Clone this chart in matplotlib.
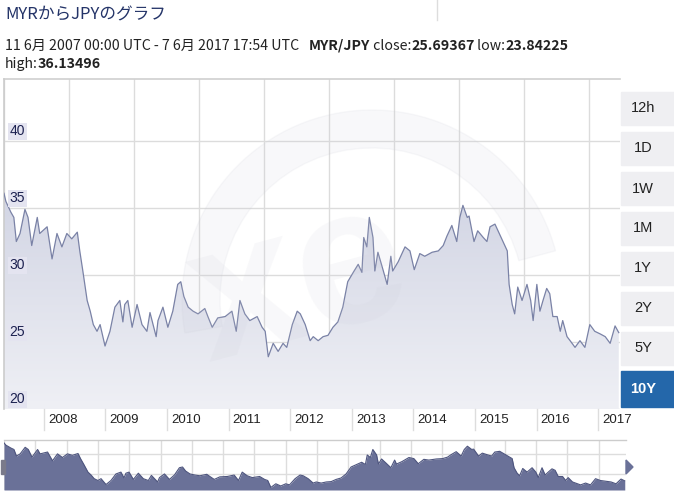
import numpy as np
import matplotlib
matplotlib.use("Agg")
import matplotlib.pyplot as plt
from matplotlib.colors import LinearSegmentedColormap
from matplotlib.patches import Polygon, Rectangle, Wedge
from matplotlib.transforms import IdentityTransform, blended_transform_factory

plt.rcParams['font.family'] = ['Liberation Sans', 'DejaVu Sans']

# ---------------------------- data ----------------------------
years = [2007.44, 2007.47, 2007.55, 2007.60, 2007.64, 2007.70, 2007.78, 2007.83, 2007.89, 2007.98,
         2008.02, 2008.14, 2008.22, 2008.30, 2008.38, 2008.46, 2008.54, 2008.63, 2008.67, 2008.72,
         2008.79, 2008.84, 2008.89, 2008.95, 2009.00, 2009.08, 2009.16, 2009.24, 2009.32, 2009.37,
         2009.40, 2009.45, 2009.52, 2009.60, 2009.68, 2009.76, 2009.81, 2009.91, 2009.94, 2010.02,
         2010.10, 2010.18, 2010.26, 2010.31, 2010.36, 2010.43, 2010.51, 2010.59, 2010.70, 2010.75,
         2010.82, 2010.91, 2011.03, 2011.14, 2011.21, 2011.27, 2011.35, 2011.43, 2011.55, 2011.63,
         2011.68, 2011.73, 2011.81, 2011.89, 2011.97, 2012.03, 2012.12, 2012.20, 2012.25, 2012.33,
         2012.41, 2012.46, 2012.54, 2012.62, 2012.70, 2012.78, 2012.86, 2012.94, 2013.02, 2013.11,
         2013.19, 2013.25, 2013.28, 2013.33, 2013.37, 2013.43, 2013.46, 2013.51, 2013.58, 2013.66,
         2013.72, 2013.75, 2013.84, 2013.95, 2014.03, 2014.10, 2014.19, 2014.27, 2014.39, 2014.49,
         2014.57, 2014.63, 2014.71, 2014.79, 2014.84, 2014.89, 2014.96, 2014.99, 2015.07, 2015.13,
         2015.22, 2015.28, 2015.33, 2015.41, 2015.48, 2015.54, 2015.61, 2015.64, 2015.69, 2015.73,
         2015.78, 2015.85, 2015.93, 2015.99, 2016.03, 2016.09, 2016.14, 2016.19, 2016.25, 2016.30,
         2016.35, 2016.42, 2016.47, 2016.51, 2016.58, 2016.63, 2016.71, 2016.79, 2016.87, 2016.95,
         2017.03, 2017.12, 2017.20, 2017.28, 2017.36, 2017.42]
rate = [36.1, 35.5, 34.7, 34.3, 32.5, 33.1, 34.9, 34.3, 32.2, 34.3,
        33.1, 33.6, 31.2, 33.1, 32.1, 33.1, 32.7, 33.2, 31.8, 30.3,
        28.1, 27.3, 26.3, 25.8, 26.3, 24.7, 25.8, 27.6, 28.1, 26.5,
        27.8, 28.1, 26.1, 27.8, 26.3, 25.8, 27.2, 25.4, 26.6, 27.6,
        26.1, 27.3, 29.3, 29.5, 28.4, 27.6, 27.3, 27.1, 27.5, 26.9,
        26.1, 26.8, 26.9, 27.3, 25.8, 28.1, 27.1, 26.6, 26.9, 26.1,
        25.8, 23.9, 24.9, 24.3, 24.9, 24.6, 26.3, 27.3, 27.1, 26.3,
        25.1, 25.4, 25.1, 25.4, 25.5, 26.1, 26.5, 27.6, 29.5, 30.2,
        30.8, 30.2, 32.8, 32.1, 34.3, 32.8, 30.3, 31.7, 30.6, 29.3,
        31.4, 30.3, 31.0, 32.1, 31.8, 30.4, 31.6, 31.4, 31.7, 31.8,
        32.2, 32.9, 33.7, 32.5, 34.3, 35.2, 34.3, 34.4, 32.5, 33.3,
        32.8, 32.5, 33.6, 33.8, 33.1, 32.5, 31.8, 29.3, 27.8, 27.1,
        29.1, 28.1, 29.3, 28.1, 26.6, 29.3, 27.3, 28.1, 29.0, 28.6,
        26.9, 26.9, 25.8, 26.6, 25.4, 25.1, 24.6, 25.1, 24.6, 26.3,
        25.8, 25.6, 25.4, 24.9, 26.2, 25.7]

yticks = [20, 25, 30, 35, 40]
year_labels = ['2008', '2009', '2010', '2011', '2012', '2013', '2014', '2015', '2016', '2017']
buttons = ['12h', '1D', '1W', '1M', '1Y', '2Y', '5Y', '10Y']

W, H = 674, 496
def fx(px):
    return px / W
def fy(py):
    return 1 - py / H

fig = plt.figure(figsize=(W / 100, H / 100), dpi=100)
fig.patch.set_facecolor('white')

# ------------------------------- main chart --------------------------------
ax = fig.add_axes([fx(4), fy(409), fx(616), 330 / H])
x0, x1 = 2007.44, 2017.44
ymax = 44.63
for s in ax.spines.values():
    s.set_visible(False)
ax.set_xticks([])
ax.set_yticks([])

# grid
for v in yticks:
    ax.axhline(v, color='#dcdcdc', lw=1, zorder=0)
for gx in np.arange(0, 10, 1) * 65 / 61.6 + x0:
    ax.axvline(gx, color='#dcdcdc', lw=1, zorder=0)
ax.axhline(ymax, color='#d0d0d0', lw=1.2, zorder=0, clip_on=False)

# gradient fill under the line
cmap = LinearSegmentedColormap.from_list('fill', ['#eff0f5', '#d2d5e4'])
grad = np.linspace(0, 1, 256).reshape(-1, 1)
im = ax.imshow(grad, extent=[x0, x1, 20, max(rate)], origin='lower', aspect='auto',
               cmap=cmap, zorder=1)
verts = [(years[0], 19)] + list(zip(years, rate)) + [(years[-1], 19)]
clip = Polygon(verts, closed=True, facecolor='none', edgecolor='none')
ax.add_patch(clip)
im.set_clip_path(clip)
ax.set_xlim(x0, x1)
ax.set_ylim(20, ymax)
ax.plot(years, rate, color='#7a82a6', lw=0.9, zorder=3)

# watermark
wm = '#c9cad6'
fig.add_artist(Wedge((372, H - 300), 190, 15, 190, width=38, color=wm, alpha=0.12,
                     transform=IdentityTransform(), zorder=5))
fig.text(fx(300), fy(285), 'xe', fontsize=140, fontweight='bold', color=wm, alpha=0.12,
         ha='center', va='center', rotation=15, zorder=5)

# y labels
for v in yticks:
    ax.annotate(str(v), xy=(0, v), xycoords=('axes fraction', 'data'), xytext=(4, 2),
                textcoords='offset points', fontsize=10, color='#1c2150', ha='left', va='bottom',
                bbox=dict(facecolor='#e4e4f0', edgecolor='none', pad=1.2), zorder=6)

# year labels and separators
tr = blended_transform_factory(ax.transData, ax.transAxes)
for i, lab in enumerate(year_labels):
    t = 2008 + i + 0.085
    ax.plot([t, t], [0, -0.065], color='#dddddd', lw=1, transform=tr, clip_on=False)
    ax.annotate(lab, xy=(t, 0), xycoords=tr, xytext=(3, -8), textcoords='offset points',
                fontsize=9.5, color='#222222', ha='left', va='center')
ax.plot([x0, x0], [0, 1], color='#cccccc', lw=1.2, transform=tr, clip_on=False)

# ------------------------------- navigator --------------------------------
nav = fig.add_axes([fx(4), fy(490), fx(622), 50 / H])
nav.set_xlim(x0, x1)
nav.set_ylim(23.2, 36.9)
for s in nav.spines.values():
    s.set_visible(False)
nav.set_xticks([])
nav.set_yticks([])
for gx in np.arange(0, 20) * 31 / 61.6 + x0:
    nav.axvline(gx, color='#dddddd', lw=1, zorder=0)
for gy in [27.5, 33.0]:
    nav.axhline(gy, color='#dddddd', lw=1, zorder=0)
nav.axhline(36.9, color='#cccccc', lw=1, zorder=0, clip_on=False)
nav.fill_between(years, rate, 23.2, color='#6a7198', lw=0, zorder=2)
nav.plot(years, rate, color='#4e557e', lw=0.8, zorder=3)
fig.add_artist(Rectangle((fx(1), fy(474)), fx(4), 14 / H, color='#7a7a8a', zorder=6))
fig.add_artist(Polygon([(fx(626), fy(460)), (fx(633), fy(467)), (fx(626), fy(474))],
                       closed=True, color='#6a7198', zorder=6))

# ------------------------------- range buttons --------------------------------
btn_top = [92, 132, 172, 212, 252, 292, 332, 371]
for lab, top in zip(buttons, btn_top):
    sel = lab == '10Y'
    h = 36 if sel else 33
    fig.add_artist(Rectangle((fx(621), fy(top + h)), fx(53), h / H,
                             color='#2467aa' if sel else '#efeff2', zorder=4))
    fig.text(fx(643), fy(top + h / 2), lab, fontsize=10.5, ha='center', va='center', zorder=7,
             color='white' if sel else '#222222', fontweight='bold' if sel else 'normal')

# ------------------------------- header texts --------------------------------
jp = ['Noto Sans CJK JP', 'DejaVu Sans']
fig.text(fx(5), fy(15), 'MYRからJPYのグラフ', fontsize=12, color='#243468',
         family=jp, ha='left', va='center')
fig.add_artist(plt.Line2D([fx(437), fx(437)], [fy(0), fy(20)], color='#dddddd', lw=1))

fs = 10.2
pieces = [('11 6月 2007 00:00 UTC - 7 6月 2017 17:54 UTC   ', 'normal'),
          ('MYR/JPY', 'bold'), (' close:', 'normal'), ('25.69367', 'bold'),
          (' low:', 'normal'), ('23.84225', 'bold')]
last = None
for txt, wt in pieces:
    if last is None:
        last = fig.text(fx(5), fy(46), txt, fontsize=fs, family=jp, fontweight=wt,
                        va='center', ha='left', color='#222222')
    else:
        last = plt.annotate(txt, xy=(1, 0.5), xycoords=last, va='center', ha='left',
                            fontsize=fs, family=jp, fontweight=wt, color='#222222')
a = fig.text(fx(5), fy(64), 'high:', fontsize=fs, family=jp, va='center', ha='left',
             color='#222222')
plt.annotate('36.13496', xy=(1, 0.5), xycoords=a, va='center', ha='left', fontsize=fs,
             family=jp, fontweight='bold', color='#222222')

fig.savefig('out.png', dpi=100)
